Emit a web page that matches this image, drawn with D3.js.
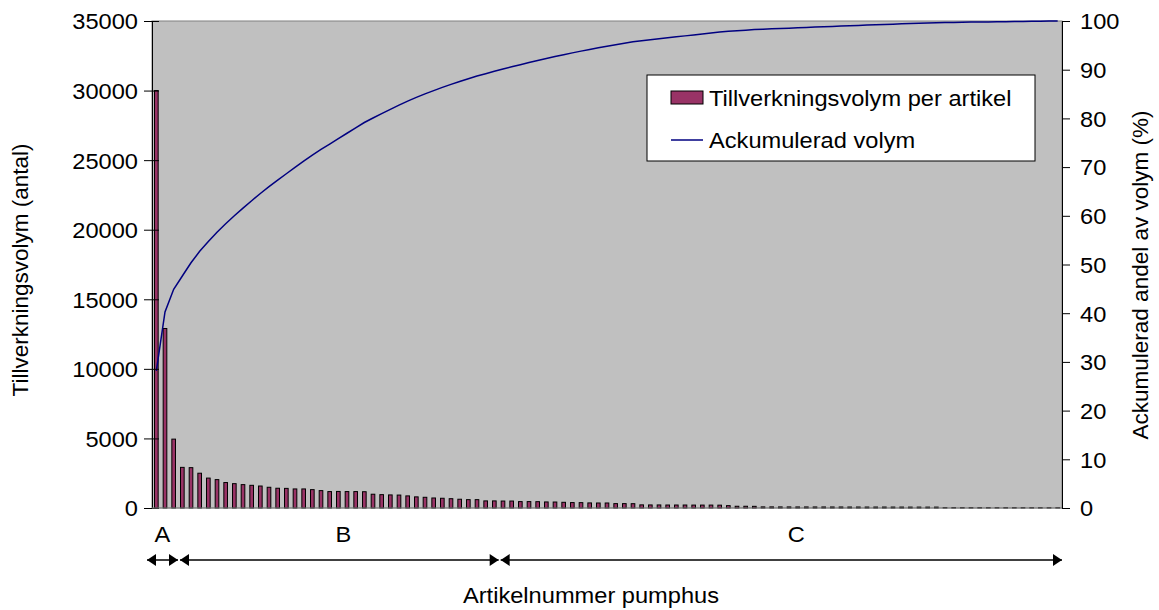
<!DOCTYPE html>
<html><head><meta charset="utf-8">
<script src="https://cdn.jsdelivr.net/npm/d3@7"></script>
<style>
html,body{margin:0;padding:0;background:#fff;}
svg text{font-family:"Liberation Sans",Arial,sans-serif;fill:#000;}
</style></head>
<body><svg id="c" width="1159" height="610"></svg>
<script>
// ---- data ----
const volumes = [30000,12900,4950,2920,2900,2500,2150,2040,1830,1750,
1680,1630,1580,1490,1420,1410,1370,1370,1320,1250,
1180,1190,1180,1180,1170,990,960,940,930,870,
800,770,720,700,670,630,600,600,510,510,
500,500,460,460,455,435,430,410,390,385,
365,360,360,315,315,310,225,220,220,215,
215,215,210,210,210,205,170,125,125,120,
80,80,78,78,76,76,75,75,74,74,
72,72,70,70,70,68,68,66,66,65,
65,30,30,28,28,27,27,26,26,25,
25,24,24,22,20];
const leftTicks = [0,5000,10000,15000,20000,25000,30000,35000];
const rightTicks = [0,10,20,30,40,50,60,70,80,90,100];
const groupNames = ["A","B","C"];
const groupStart = [0,3,40];
const groupEnd = [2,39,104];
const seriesNames = ["Tillverkningsvolym per artikel","Ackumulerad volym"];

// ---- chart ----
const svg = d3.select("#c");
const L=152, R=1062, T=21, B=508;
const idx = d3.range(volumes.length);
const x = d3.scaleBand().domain(idx).range([L,R]).padding(0);
const y = d3.scaleLinear().domain([0,35000]).range([B,T]);
const y2 = d3.scaleLinear().domain([0,100]).range([B,T]);
const total = d3.sum(volumes);
const cum = Array.from(d3.cumsum(volumes), v => v/total*100);

svg.append("rect").attr("x",L).attr("y",T).attr("width",R-L).attr("height",B-T)
  .attr("fill","#C0C0C0").attr("stroke","#808080").attr("stroke-width",1);

const bw = x.bandwidth()*0.42;
svg.append("g").selectAll("rect").data(idx).join("rect")
  .attr("x", i => x(i)+x.bandwidth()/2-bw/2)
  .attr("y", i => y(volumes[i]))
  .attr("width", bw)
  .attr("height", i => B - y(volumes[i]))
  .attr("fill","#993366").attr("stroke","#000").attr("stroke-width",1);

svg.append("path").datum(idx)
  .attr("d", d3.line().x(i => x(i)+x.bandwidth()/2).y(i => y2(cum[i])))
  .attr("fill","none").attr("stroke","#000080").attr("stroke-width",1.5);

// axes
const fs = 22.5;
const la = svg.append("g").attr("transform",`translate(${L},0)`)
  .call(d3.axisLeft(y).tickValues(leftTicks).tickSizeInner(8).tickSizeOuter(0).tickPadding(6).tickFormat(d3.format("d")));
la.selectAll(".tick line").attr("x2",7).attr("x1",-8);
la.selectAll("text").attr("class","h").style("font-size",fs+"px").attr("dy","0.35em");
la.select(".domain").attr("stroke","#000");

const ra = svg.append("g").attr("transform",`translate(${R},0)`)
  .call(d3.axisRight(y2).tickValues(rightTicks).tickSizeInner(8).tickSizeOuter(0).tickPadding(10));
ra.selectAll("text").attr("class","h").style("font-size",fs+"px").attr("dy","0.35em");
ra.select(".domain").attr("stroke","#000");

svg.append("line").attr("x1",L).attr("x2",R).attr("y1",B).attr("y2",B).attr("stroke","#808080");

// axis titles
svg.append("text").attr("transform","translate(28,270) rotate(-90)")
  .attr("text-anchor","middle").style("font-size",fs+"px").text("Tillverkningsvolym (antal)");
svg.append("text").attr("transform","translate(1148,275) rotate(-90)")
  .attr("text-anchor","middle").style("font-size",fs+"px").text("Ackumulerad andel av volym (%)");
svg.append("text").attr("class","h").attr("x",591).attr("y",603).attr("text-anchor","middle")
  .style("font-size",fs+"px").text("Artikelnummer pumphus");

// group arrows
const ay = 560, ah = 9, aw = 6;
const gx0 = groupStart.map((s,k) => x(s) + (k===0 ? -5 : 2));
const gx1 = groupEnd.map(e => x(e)+x.bandwidth());
const lblOff = [0,4,15];
const ag = svg.append("g");
groupNames.forEach((g,k) => {
  const a = gx0[k], b = gx1[k];
  ag.append("line").attr("x1",a).attr("x2",b).attr("y1",ay).attr("y2",ay).attr("stroke","#000").attr("stroke-width",1.5);
  ag.append("path").attr("d",`M${a},${ay}L${a+ah},${ay-aw}L${a+ah},${ay+aw}Z`).attr("fill","#000");
  ag.append("path").attr("d",`M${b},${ay}L${b-ah},${ay-aw}L${b-ah},${ay+aw}Z`).attr("fill","#000");
  ag.append("text").attr("class","h").attr("x",(a+b)/2+lblOff[k]).attr("y",542).attr("text-anchor","middle")
    .style("font-size",fs+"px").text(g);
});

// legend
const lg = svg.append("g");
lg.append("rect").attr("x",647).attr("y",75).attr("width",388).attr("height",86)
  .attr("fill","#fff").attr("stroke","#000");
lg.append("rect").attr("x",671).attr("y",91).attr("width",32).attr("height",13)
  .attr("fill","#993366").attr("stroke","#000");
lg.append("line").attr("x1",671).attr("x2",703).attr("y1",140).attr("y2",140)
  .attr("stroke","#000080").attr("stroke-width",1.5);
lg.append("text").attr("class","h").attr("x",709).attr("y",106).style("font-size",fs+"px").text(seriesNames[0]);
lg.append("text").attr("class","h").attr("x",709).attr("y",148).style("font-size",fs+"px").text(seriesNames[1]);

// slight horizontal stretch of horizontal text, as in the reference
svg.selectAll("text.h").each(function(){
  const w = this.getComputedTextLength();
  d3.select(this).attr("textLength", w*1.05).attr("lengthAdjust","spacingAndGlyphs");
});
</script></body></html>
